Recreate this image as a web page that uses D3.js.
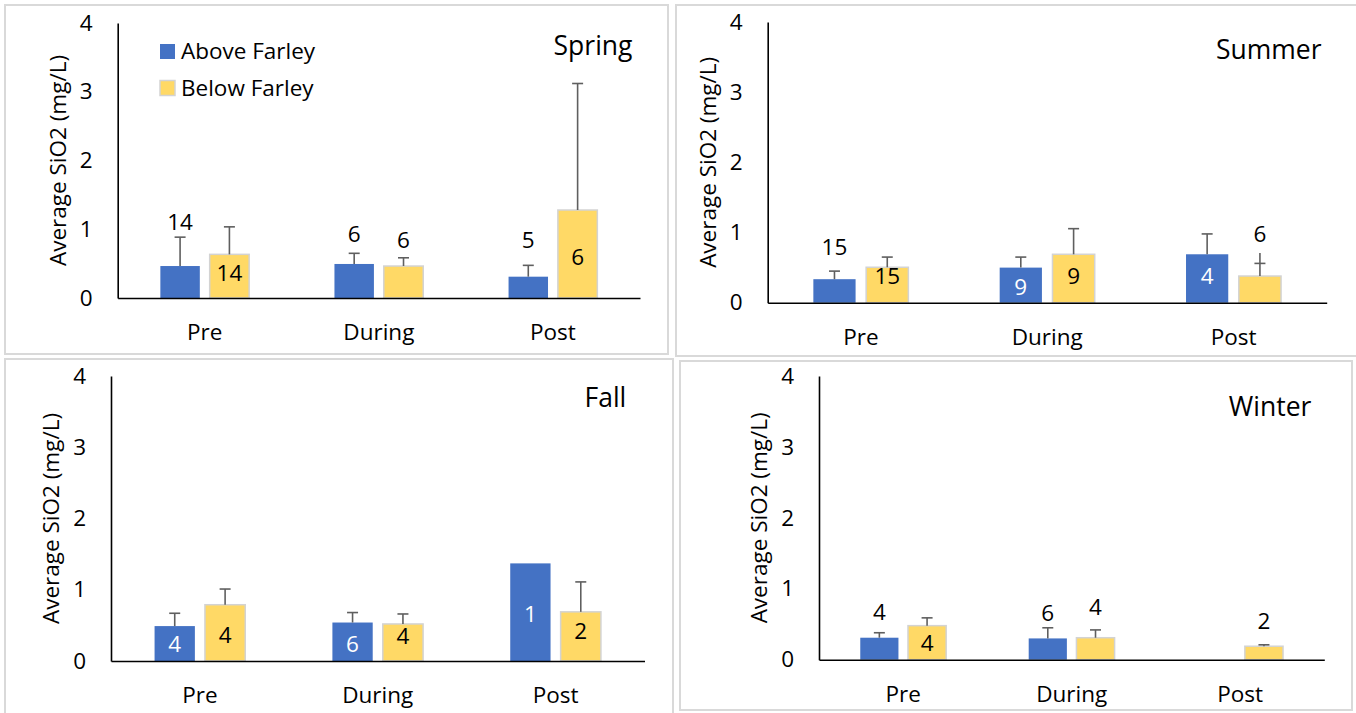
<!DOCTYPE html>
<html>
<head>
<meta charset="utf-8">
<script src="https://cdn.jsdelivr.net/npm/d3@7"></script>
<style>
  html, body { margin: 0; padding: 0; background: #fff; }
  svg { display: block; font-family: "Open Sans", sans-serif; }
</style>
</head>
<body>
<svg id="chart" width="1356" height="713"></svg>
<script>
// ---- data ----
const categories = ["Pre", "During", "Post"];
const seriesNames = ["Above Farley", "Below Farley"];
const seasons = ["Spring", "Summer", "Fall", "Winter"];
const yTicks = [0, 1, 2, 3, 4];

// average SiO2 (mg/L) per period: Pre, During, Post
const springAbove = [0.465, 0.495, 0.31];
const springBelow = [0.635, 0.465, 1.28];
const summerAbove = [0.335, 0.50, 0.69];
const summerBelow = [0.505, 0.69, 0.38];
const fallAbove   = [0.49, 0.54, 1.37];
const fallBelow   = [0.79, 0.52, 0.69];
const winterAbove = [0.31, 0.30, null];
const winterBelow = [0.48, 0.31, 0.19];

// upper error bar size (mg/L)
const springAboveErr = [0.42, 0.155, 0.165];
const springBelowErr = [0.40, 0.12, 1.84];
const summerAboveErr = [0.115, 0.15, 0.29];
const summerBelowErr = [0.145, 0.365, 0.18];
const fallAboveErr   = [0.18, 0.14, null];
const fallBelowErr   = [0.22, 0.14, 0.42];
const winterAboveErr = [0.07, 0.15, null];
const winterBelowErr = [0.11, 0.11, 0.02];

// number of samples shown as data labels
const springAboveN = [14, 6, 5];
const springBelowN = [14, 6, 6];
const summerAboveN = [15, 9, 4];
const summerBelowN = [15, 9, 6];
const fallAboveN   = [4, 6, 1];
const fallBelowN   = [4, 4, 2];
const winterAboveN = [4, 6, null];
const winterBelowN = [4, 4, 2];

const means  = { Spring: [springAbove, springBelow], Summer: [summerAbove, summerBelow],
                 Fall: [fallAbove, fallBelow], Winter: [winterAbove, winterBelow] };
const errs   = { Spring: [springAboveErr, springBelowErr], Summer: [summerAboveErr, summerBelowErr],
                 Fall: [fallAboveErr, fallBelowErr], Winter: [winterAboveErr, winterBelowErr] };
const counts = { Spring: [springAboveN, springBelowN], Summer: [summerAboveN, summerBelowN],
                 Fall: [fallAboveN, fallBelowN], Winter: [winterAboveN, winterBelowN] };

// ---- layout ----
// label placement: ["a", gap] = above the error bar, ["c", dy] = centred in the bar,
// ["l", gap] = above with a leader line down to the error bar
const panels = [
  { season: "Spring", frame: [5, 5, 663, 349], xr: [117.7, 640], yr: [298, 23],
    title: [632.5, 55], legend: [160, 44],
    place: [[["a", 7], ["a", 11], ["a", 17]], [["c", -3], ["a", 10], ["c", 3]]] },
  { season: "Summer", frame: [676, 5, 682, 351], xr: [767.7, 1326.7], yr: [302.7, 22],
    title: [1321.5, 59],
    place: [[["a", 16], ["c", 2], ["c", -3]], [["c", -9], ["c", -3], ["l", 21]]] },
  { season: "Fall", frame: [5, 359, 668, 360], xr: [111, 644.5], yr: [661, 376],
    title: [626.3, 407],
    place: [[["c", 0], ["c", 2], ["c", 1.5]], [["c", 2], ["c", -7], ["c", -6]]] },
  { season: "Winter", frame: [680, 361, 672, 349], xr: [819, 1324.3], yr: [659.7, 376],
    title: [1311.4, 416],
    place: [[["a", 13], ["a", 7], null], [["c", 0], ["a", 15], ["a", 16]]] }
];

const colors = ["#4472C4", "#FFD966"];
const barStroke = [null, "#d3d3d3"];
const labelColors = ["#ffffff", "#000000"];
const errColor = "#5f5f5f";
const fontSize = 22.5;

const svg = d3.select("#chart");

panels.forEach(p => {
  const g = svg.append("g");
  const season = p.season;

  g.append("rect")
    .attr("x", p.frame[0]).attr("y", p.frame[1])
    .attr("width", p.frame[2]).attr("height", p.frame[3])
    .attr("fill", "#fff").attr("stroke", "#d9d9d9").attr("stroke-width", 2);

  const y = d3.scaleLinear().domain([0, 4]).range(p.yr);
  const x0 = d3.scaleBand().domain(categories).range(p.xr).padding(0);
  const groupW = x0.bandwidth() * 0.51;
  const x1 = d3.scaleBand().domain(seriesNames).range([0, groupW]).paddingInner(0.2).paddingOuter(0);
  const off = (x0.bandwidth() - groupW) / 2;

  // bars
  seriesNames.forEach((s, si) => {
    categories.forEach((c, ci) => {
      const v = means[season][si][ci];
      if (v == null) return;
      const bx = x0(c) + off + x1(s);
      const r = g.append("rect")
        .attr("x", bx).attr("y", y(v))
        .attr("width", x1.bandwidth()).attr("height", y(0) - y(v))
        .attr("fill", colors[si]);
      if (barStroke[si]) r.attr("stroke", barStroke[si]).attr("stroke-width", 1.5);
    });
  });

  // error bars (upper only)
  seriesNames.forEach((s, si) => {
    categories.forEach((c, ci) => {
      const v = means[season][si][ci];
      const e = errs[season][si][ci];
      if (v == null || e == null) return;
      const cx = x0(c) + off + x1(s) + x1.bandwidth() / 2;
      g.append("line").attr("x1", cx).attr("x2", cx)
        .attr("y1", y(v)).attr("y2", y(v + e))
        .attr("stroke", errColor).attr("stroke-width", 1.6);
      g.append("line").attr("x1", cx - 5.5).attr("x2", cx + 5.5)
        .attr("y1", y(v + e)).attr("y2", y(v + e))
        .attr("stroke", errColor).attr("stroke-width", 1.6);
    });
  });

  // axes
  const ya = g.append("g").attr("transform", `translate(${p.xr[0]},0)`)
    .call(d3.axisLeft(y).tickValues(yTicks).tickFormat(d3.format("d")).tickSize(0).tickPadding(25));
  const xa = g.append("g").attr("transform", `translate(0,${p.yr[0]})`)
    .call(d3.axisBottom(x0).tickSize(0).tickPadding(26));
  [ya, xa].forEach(a => {
    a.attr("font-family", null).attr("font-size", null);
    a.select(".domain").attr("stroke", "#000").attr("stroke-width", 1.6);
    a.selectAll("text").attr("fill", "#000").style("font-size", fontSize + "px");
  });

  // y-axis title
  g.append("text")
    .attr("transform", `translate(${p.xr[0] - 60},${(p.yr[0] + p.yr[1]) / 2}) rotate(-90)`)
    .attr("text-anchor", "middle").attr("dy", "0.35em")
    .style("font-size", fontSize + "px").attr("fill", "#000")
    .text("Average SiO2 (mg/L)");

  // season title
  g.append("text")
    .attr("x", p.title[0]).attr("y", p.title[1])
    .attr("text-anchor", "end").style("font-size", "26.5px").attr("fill", "#000")
    .text(season);

  // data labels (sample counts)
  seriesNames.forEach((s, si) => {
    categories.forEach((c, ci) => {
      const n = counts[season][si][ci];
      const v = means[season][si][ci];
      const pl = p.place[si][ci];
      if (n == null || v == null || !pl) return;
      const e = errs[season][si][ci] || 0;
      const cx = x0(c) + off + x1(s) + x1.bandwidth() / 2;
      const t = g.append("text").attr("x", cx).attr("text-anchor", "middle")
        .style("font-size", fontSize + "px").text(n);
      if (pl[0] === "c") {
        const mid = (y(v) + y(0)) / 2 + pl[1];
        t.attr("y", mid).attr("dy", "0.36em").attr("fill", labelColors[si]);
      } else {
        const base = y(v + e) - pl[1];
        t.attr("y", base).attr("fill", "#000");
        if (pl[0] === "l") {
          g.append("line").attr("x1", cx).attr("x2", cx)
            .attr("y1", base + 10.5).attr("y2", y(v + e))
            .attr("stroke", errColor).attr("stroke-width", 1.6);
        }
      }
    });
  });

  // legend
  if (p.legend) {
    const lg = g.append("g").attr("transform", `translate(${p.legend[0]},${p.legend[1]})`);
    seriesNames.forEach((s, si) => {
      const row = lg.append("g").attr("transform", `translate(0,${si * 36.5})`);
      const r = row.append("rect").attr("width", 15).attr("height", 15).attr("fill", colors[si]);
      if (barStroke[si]) r.attr("stroke", barStroke[si]).attr("stroke-width", 1.5);
      row.append("text").attr("x", 21).attr("y", 15)
        .style("font-size", fontSize + "px").attr("fill", "#000").text(s);
    });
  }
});
</script>
</body>
</html>
